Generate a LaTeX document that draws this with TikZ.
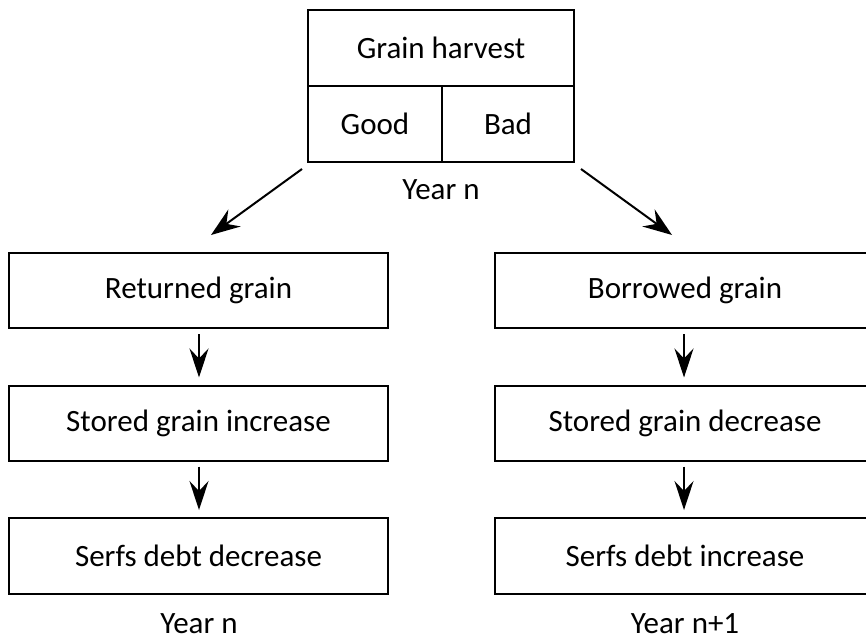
\documentclass[tikz,border=0pt]{standalone}
\usepackage{fontspec}
\setmainfont{Carlito}
\usetikzlibrary{arrows.meta}
\begin{document}
\begin{tikzpicture}[x=1pt,y=-1pt,
  every node/.style={font=\fontsize{31}{36}\selectfont},
  cell/.style={draw,line width=2pt,rectangle,inner sep=0pt},
  lbl/.style={inner sep=0pt},
  arr/.style={line width=2pt,-{Stealth[length=29pt,width=21pt,inset=10pt]}},
  sarr/.style={line width=2pt,-{Stealth[length=29pt,width=19pt,inset=10pt]}}]
\useasboundingbox (0,0) rectangle (866,640);
\begin{scope}
\clip (0,0) rectangle (866,640);
% top box
\node[cell,minimum width=266pt,minimum height=76pt] (gh) at (441,48) {Grain harvest};
\node[cell,minimum width=134pt,minimum height=76pt] (good) at (375,124) {Good};
\node[cell,minimum width=132pt,minimum height=76pt] (bad) at (508,124) {Bad};
\node[lbl] (yn) at (441,190) {Year n};
% left column
\node[cell,minimum width=379pt,minimum height=75pt] (ret) at (198.5,290.5) {Returned grain};
\node[cell,minimum width=379pt,minimum height=75pt] (sinc) at (198.5,423) {Stored grain increase};
\node[cell,minimum width=379pt,minimum height=76pt] (sdd) at (198.5,556) {Serfs debt decrease};
\node[lbl] (ynl) at (199,624) {Year n};
% right column
\node[cell,minimum width=380pt,minimum height=75pt] (bor) at (685,290.5) {Borrowed grain};
\node[cell,minimum width=380pt,minimum height=75pt] (sdec) at (685,423) {Stored grain decrease};
\node[cell,minimum width=380pt,minimum height=76pt] (sdi) at (685,556) {Serfs debt increase};
\node[lbl] (ynr) at (685,624) {Year n+1};
\end{scope}
% diagonal arrows
\coordinate (l1) at (302,169);
\coordinate (l2) at (211,235);
\coordinate (r1) at (581,169);
\coordinate (r2) at (672,235);
\draw[arr] (l1) -- (l2);
\draw[arr] (r1) -- (r2);
% small arrows
\draw[sarr,shorten <=5pt,shorten >=7pt] (ret.south -| 199,0) -- (sinc.north -| 199,0);
\draw[sarr,shorten <=5pt,shorten >=7pt] (sinc.south -| 199,0) -- (sdd.north -| 199,0);
\draw[sarr,shorten <=5pt,shorten >=7pt] (bor.south -| 684,0) -- (sdec.north -| 684,0);
\draw[sarr,shorten <=5pt,shorten >=7pt] (sdec.south -| 684,0) -- (sdi.north -| 684,0);
\end{tikzpicture}
\end{document}
